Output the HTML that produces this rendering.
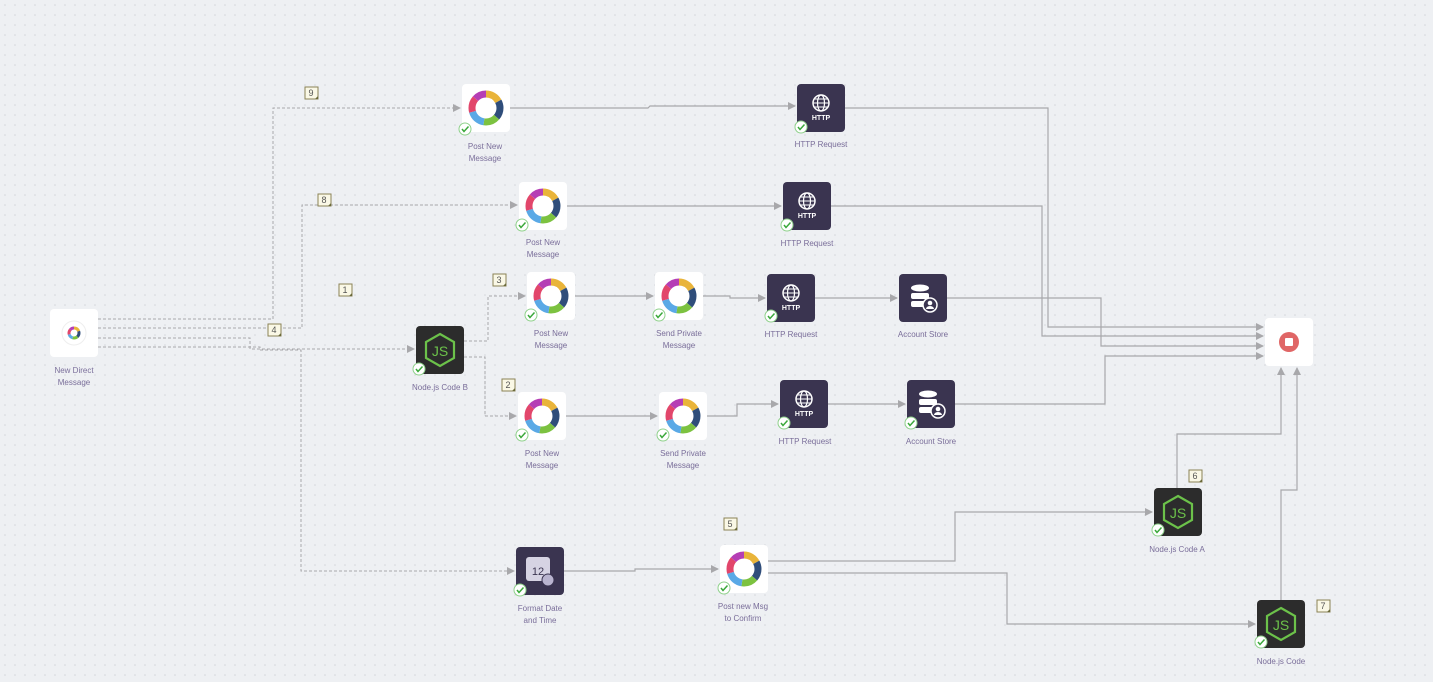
<!DOCTYPE html>
<html><head><meta charset="utf-8"><style>
html,body{margin:0;padding:0;background:#eef0f3;}
svg{display:block;font-family:"Liberation Sans",sans-serif;}
text.l{font-size:8px;fill:#7a6e9a;text-anchor:middle;}
</style></head><body>
<svg width="1433" height="682" viewBox="0 0 1433 682" xmlns="http://www.w3.org/2000/svg">
<defs>
<pattern id="dots" width="10" height="10" patternUnits="userSpaceOnUse"><circle cx="5" cy="5" r="0.8" fill="#d3d5da"/></pattern>
<marker id="ar" markerWidth="8" markerHeight="8" refX="7" refY="4" orient="auto" markerUnits="userSpaceOnUse"><path d="M0,0 L8,4 L0,8 z" fill="#a8a8ab"/></marker>
<g id="wx">
<rect x="0" y="0" width="48" height="48" rx="4" fill="#fff"/>
<g transform="translate(24,24) rotate(-90)" fill="none" stroke-width="7">
<circle r="14" stroke="#e9b43a" stroke-dasharray="15 88" stroke-dashoffset="0"/>
<circle r="14" stroke="#2f4d7a" stroke-dasharray="17 88" stroke-dashoffset="-15"/>
<circle r="14" stroke="#7cc240" stroke-dasharray="14 88" stroke-dashoffset="-32"/>
<circle r="14" stroke="#5aa9e6" stroke-dasharray="16 88" stroke-dashoffset="-46"/>
<circle r="14" stroke="#e2466b" stroke-dasharray="14 88" stroke-dashoffset="-62"/>
<circle r="14" stroke="#b53eb5" stroke-dasharray="12 88" stroke-dashoffset="-76"/>
</g>
</g>
<g id="http">
<rect width="48" height="48" rx="4" fill="#3a3450"/>
<circle cx="24" cy="19" r="8" fill="none" stroke="#fff" stroke-width="1.5"/>
<ellipse cx="24" cy="19" rx="3.5" ry="8" fill="none" stroke="#fff" stroke-width="1.2"/>
<path d="M16,19 H32 M17,15 H31 M17,23 H31" stroke="#fff" stroke-width="1.1"/>
<text x="24" y="36" font-size="7" font-weight="bold" fill="#fff" text-anchor="middle">HTTP</text>
</g>
<g id="db">
<rect width="48" height="48" rx="4" fill="#3a3450"/>
<ellipse cx="21" cy="14" rx="9" ry="3.5" fill="#fff"/>
<rect x="12" y="19" width="18" height="6" rx="2" fill="#fff"/>
<rect x="12" y="27" width="18" height="6" rx="2" fill="#fff"/>
<circle cx="31" cy="31" r="7" fill="#3a3450" stroke="#fff" stroke-width="1.5"/>
<circle cx="31" cy="29" r="2.3" fill="#fff"/><path d="M27,35 a4,3 0 0 1 8,0z" fill="#fff"/>
</g>
<g id="js">
<rect width="48" height="48" rx="4" fill="#2c2c2c"/>
<path d="M24,8 L38,16 L38,32 L24,40 L10,32 L10,16 Z" fill="none" stroke="#6cc24a" stroke-width="2.2"/>
<text x="24" y="30" font-size="14" fill="#6cc24a" text-anchor="middle">JS</text>
</g>
<g id="ok"><circle r="6" fill="#fff" stroke="#8fd18b" stroke-width="1"/><path d="M-3,0 L-1,2.5 L3.5,-2.5" fill="none" stroke="#3aa83a" stroke-width="1.5"/></g>
<g id="nt"><rect width="13" height="12" fill="#faf8e6" stroke="#8a8255" stroke-width="1"/><path d="M10,12 L13,9 L13,12z" fill="#6b6a3a"/></g>
</defs>
<rect width="1433" height="682" fill="url(#dots)"/>

<g fill="none" stroke="#a8a8ab" stroke-width="1" stroke-dasharray="3 2">
<path d="M98,319 H273 V108 H460" marker-end="url(#ar)"/>
<path d="M98,328 H302 V205 H517" marker-end="url(#ar)"/>
<path d="M98,338 H250 V349 H414" marker-end="url(#ar)"/>
<path d="M98,347 H260 V350 H301 V571 H514" marker-end="url(#ar)"/>
<path d="M464,341 H488 V296 H525" marker-end="url(#ar)"/>
<path d="M464,357 H485 V416 H516" marker-end="url(#ar)"/>
</g>
<g fill="none" stroke="#a8a8ab" stroke-width="1.2">
<path d="M510,108 H648 L650,106 H795" marker-end="url(#ar)"/>
<path d="M845,108 H1048 V327 H1263" marker-end="url(#ar)"/>
<path d="M567,206 H781" marker-end="url(#ar)"/>
<path d="M831,206 H1042 V336 H1263" marker-end="url(#ar)"/>
<path d="M575,296 H653" marker-end="url(#ar)"/>
<path d="M703,296 H730 V298 H765" marker-end="url(#ar)"/>
<path d="M815,298 H897" marker-end="url(#ar)"/>
<path d="M947,298 H1101 V346 H1263" marker-end="url(#ar)"/>
<path d="M566,416 H657" marker-end="url(#ar)"/>
<path d="M707,416 H737 V404 H778" marker-end="url(#ar)"/>
<path d="M828,404 H905" marker-end="url(#ar)"/>
<path d="M955,404 H1105 V356 H1263" marker-end="url(#ar)"/>
<path d="M564,571 H635 V569 H718" marker-end="url(#ar)"/>
<path d="M768,561 H955 V512 H1152" marker-end="url(#ar)"/>
<path d="M768,573 H1007 V624 H1255" marker-end="url(#ar)"/>
<path d="M1177,488 V434 H1281 V368" marker-end="url(#ar)"/>
<path d="M1281,600 V490 H1297 V368" marker-end="url(#ar)"/>
</g>

<!-- start -->
<rect x="50" y="309" width="48" height="48" rx="4" fill="#fff"/>
<circle cx="74" cy="333" r="12" fill="#fff" stroke="#eee"/>
<g transform="translate(74,333) rotate(-90)" fill="none" stroke-width="3">
<circle r="5" stroke="#e9b43a" stroke-dasharray="6 32"/>
<circle r="5" stroke="#2f4d7a" stroke-dasharray="6 32" stroke-dashoffset="-6"/>
<circle r="5" stroke="#7cc240" stroke-dasharray="5 32" stroke-dashoffset="-12"/>
<circle r="5" stroke="#5aa9e6" stroke-dasharray="5 32" stroke-dashoffset="-17"/>
<circle r="5" stroke="#e2466b" stroke-dasharray="5 32" stroke-dashoffset="-22"/>
<circle r="5" stroke="#b53eb5" stroke-dasharray="5 32" stroke-dashoffset="-27"/>
</g>
<text class="l" x="74" y="373">New Direct</text><text class="l" x="74" y="385">Message</text>

<use href="#wx" x="462" y="84"/><use href="#ok" x="465" y="129"/>
<text class="l" x="485" y="149">Post New</text><text class="l" x="485" y="161">Message</text>
<use href="#http" x="797" y="84"/><use href="#ok" x="801" y="127"/>
<text class="l" x="821" y="147">HTTP Request</text>

<use href="#wx" x="519" y="182"/><use href="#ok" x="522" y="225"/>
<text class="l" x="543" y="245">Post New</text><text class="l" x="543" y="257">Message</text>
<use href="#http" x="783" y="182"/><use href="#ok" x="787" y="225"/>
<text class="l" x="807" y="246">HTTP Request</text>

<use href="#wx" x="527" y="272"/><use href="#ok" x="531" y="315"/>
<text class="l" x="551" y="336">Post New</text><text class="l" x="551" y="348">Message</text>
<use href="#wx" x="655" y="272"/><use href="#ok" x="659" y="315"/>
<text class="l" x="679" y="336">Send Private</text><text class="l" x="679" y="348">Message</text>
<use href="#http" x="767" y="274"/><use href="#ok" x="771" y="316"/>
<text class="l" x="791" y="337">HTTP Request</text>
<use href="#db" x="899" y="274"/>
<text class="l" x="923" y="337">Account Store</text>

<use href="#js" x="416" y="326"/><use href="#ok" x="419" y="369"/>
<text class="l" x="440" y="390">Node.js Code B</text>

<use href="#wx" x="518" y="392"/><use href="#ok" x="522" y="435"/>
<text class="l" x="542" y="456">Post New</text><text class="l" x="542" y="468">Message</text>
<use href="#wx" x="659" y="392"/><use href="#ok" x="663" y="435"/>
<text class="l" x="683" y="456">Send Private</text><text class="l" x="683" y="468">Message</text>
<use href="#http" x="780" y="380"/><use href="#ok" x="784" y="423"/>
<text class="l" x="805" y="444">HTTP Request</text>
<use href="#db" x="907" y="380"/><use href="#ok" x="911" y="423"/>
<text class="l" x="931" y="444">Account Store</text>

<rect x="1265" y="318" width="48" height="48" rx="4" fill="#fff"/>
<circle cx="1289" cy="342" r="10" fill="#e06666"/>
<rect x="1285" y="338" width="8" height="8" rx="1" fill="#fff"/>

<rect x="516" y="547" width="48" height="48" rx="4" fill="#3a3450"/>
<rect x="526" y="557" width="24" height="24" rx="3" fill="#d6d3e3"/>
<text x="538" y="575" font-size="11" fill="#3a3450" text-anchor="middle">12</text>
<circle cx="548" cy="580" r="6" fill="#b9b4cf" stroke="#3a3450"/>
<use href="#ok" x="520" y="590"/>
<text class="l" x="540" y="611">Format Date</text><text class="l" x="540" y="623">and Time</text>

<use href="#wx" x="720" y="545"/><use href="#ok" x="724" y="588"/>
<text class="l" x="743" y="609">Post new Msg</text><text class="l" x="743" y="621">to Confirm</text>

<use href="#js" x="1154" y="488"/><use href="#ok" x="1158" y="530"/>
<text class="l" x="1177" y="552">Node.js Code A</text>
<use href="#js" x="1257" y="600"/><use href="#ok" x="1261" y="642"/>
<text class="l" x="1281" y="664">Node.js Code</text>

<g font-size="9" fill="#555" text-anchor="middle">
<use href="#nt" x="305" y="87"/><text x="311" y="96">9</text>
<use href="#nt" x="318" y="194"/><text x="324" y="203">8</text>
<use href="#nt" x="339" y="284"/><text x="345" y="293">1</text>
<use href="#nt" x="268" y="324"/><text x="274" y="333">4</text>
<use href="#nt" x="493" y="274"/><text x="499" y="283">3</text>
<use href="#nt" x="502" y="379"/><text x="508" y="388">2</text>
<use href="#nt" x="724" y="518"/><text x="730" y="527">5</text>
<use href="#nt" x="1189" y="470"/><text x="1195" y="479">6</text>
<use href="#nt" x="1317" y="600"/><text x="1323" y="609">7</text>
</g>
</svg>
</body></html>
